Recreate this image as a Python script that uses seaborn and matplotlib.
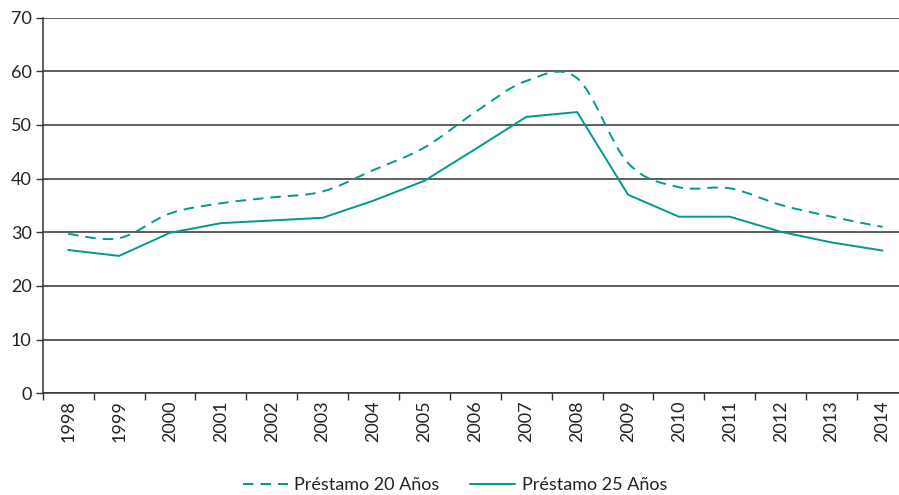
import matplotlib
matplotlib.use("Agg")
import matplotlib.pyplot as plt
from matplotlib.path import Path
from matplotlib.patches import PathPatch
from matplotlib.lines import Line2D
import seaborn as sns
import pandas as pd
import numpy as np

years = [str(y) for y in range(1998, 2015)]
prestamo_20 = [29.7, 28.9, 33.5, 35.4, 36.5, 37.6, 41.6, 45.8, 52.4, 58.2, 58.7,
               42.9, 38.4, 38.2, 35.1, 32.9, 31.0]
prestamo_25 = [26.7, 25.6, 29.9, 31.7, 32.2, 32.7, 35.9, 39.6, 45.5, 51.5, 52.4,
               37.0, 32.9, 32.9, 30.1, 28.1, 26.6]
series_names = ["Préstamo 20 Años", "Préstamo 25 Años"]
y_ticks = [0, 10, 20, 30, 40, 50, 60, 70]

sns.set_theme(style="white")
plt.rcParams["font.family"] = ["Lato", "DejaVu Sans"]

color = "#009990"
lw = 1.4
dash = (5.4, 3.6)
fs = 13

df25 = pd.DataFrame({"x": list(range(len(years))), "value": prestamo_25})

fig = plt.figure(figsize=(8.99, 4.95), dpi=100)
ax = fig.add_axes([42.7 / 899, 101.7 / 495, (908 - 42.7) / 899, (477.4 - 101.7) / 495])

# solid series
sns.lineplot(data=df25, x="x", y="value", color=color, linewidth=lw, ax=ax, legend=False)

# dashed series: smoothed line (cubic Bezier through the data points)
xs = np.arange(len(years), dtype=float)
ys = np.array(prestamo_20, dtype=float)
pts = np.column_stack([xs, ys])
verts = [tuple(pts[0])]
codes = [Path.MOVETO]
n = len(pts)
for i in range(n - 1):
    p0 = pts[i - 1] if i > 0 else pts[i]
    p1 = pts[i]
    p2 = pts[i + 1]
    p3 = pts[i + 2] if i + 2 < n else pts[i + 1]
    c1 = p1 + (p2 - p0) / 6.0
    c2 = p2 - (p3 - p1) / 6.0
    verts += [tuple(c1), tuple(c2), tuple(p2)]
    codes += [Path.CURVE4] * 3
patch = PathPatch(Path(verts, codes), facecolor="none", edgecolor=color,
                  linewidth=lw, linestyle=(0, dash), transform=ax.transData,
                  capstyle="butt", joinstyle="round")
ax.add_patch(patch)

ax.set_xlim(-0.5, len(years) - 0.5)
ax.set_ylim(0, 70)
ax.set_yticks(y_ticks)
ax.set_yticklabels([str(v) for v in y_ticks], fontsize=fs, color="#222222")
ax.yaxis.grid(True, color="#333333", linewidth=1.1)
ax.set_axisbelow(True)

ax.set_xticks(np.arange(-0.5, len(years) + 0.5, 1))
ax.set_xticklabels([])
ax.set_xticks(np.arange(len(years)), minor=True)
ax.set_xticklabels(years, minor=True, rotation=90, fontsize=fs, color="#222222")
ax.tick_params(axis="x", which="major", direction="out", length=5, width=1, color="#333333", bottom=True)
ax.tick_params(axis="x", which="minor", length=0, pad=5)
ax.tick_params(axis="y", direction="out", length=5, width=1, color="#333333", left=True, pad=3)

ax.set_xlabel("")
ax.set_ylabel("")
for s in ["top", "right"]:
    ax.spines[s].set_visible(False)
for s in ["left", "bottom"]:
    ax.spines[s].set_color("#333333")
    ax.spines[s].set_linewidth(1.1)

handles = [Line2D([], [], color=color, linewidth=lw, linestyle=(0, dash)),
           Line2D([], [], color=color, linewidth=lw)]
fig.legend(handles, series_names, loc="lower center", bbox_to_anchor=(455 / 899, -0.029),
           ncol=2, frameon=False, fontsize=fs, handlelength=2.5, columnspacing=1.7,
           handletextpad=0.35, labelcolor="#222222")

fig.savefig("out.png", dpi=100)
